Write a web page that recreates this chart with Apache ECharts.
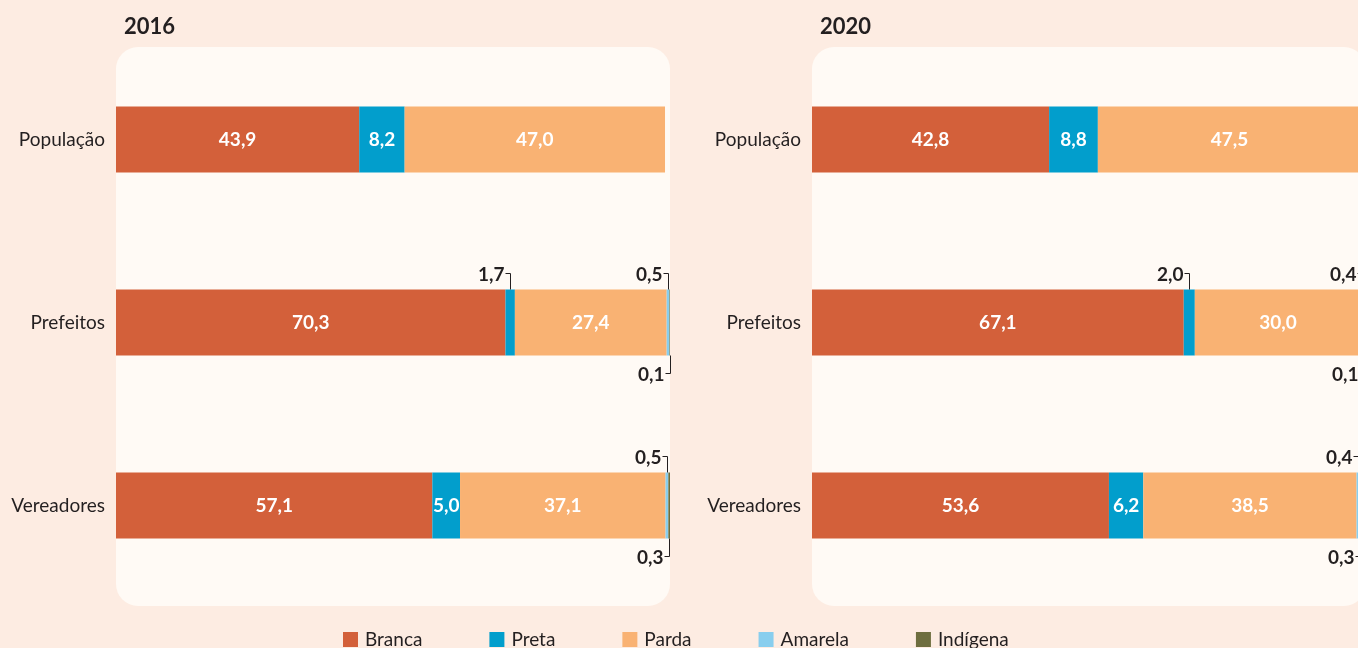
<!DOCTYPE html>
<html>
<head>
<meta charset="utf-8">
<script src="https://cdn.jsdelivr.net/npm/echarts@6/dist/echarts.min.js"></script>
<style>
  html, body { margin: 0; padding: 0; background: #FDECE2; overflow: hidden; }
  #chart { width: 1372px; height: 648px; }
</style>
</head>
<body>
<div id="chart"></div>
<script>
const categories = ['População', 'Prefeitos', 'Vereadores'];
const groups = ['Branca', 'Preta', 'Parda', 'Amarela', 'Indígena'];
const colors = ['#D3603A', '#029ECC', '#F9B273', '#88CEEE', '#6E6E3F'];

// 2016
const branca2016 = [43.9, 70.3, 57.1];
const preta2016 = [8.2, 1.7, 5.0];
const parda2016 = [47.0, 27.4, 37.1];
const amarela2016 = [null, 0.5, 0.5];
const indigena2016 = [null, 0.1, 0.3];

// 2020
const branca2020 = [42.8, 67.1, 53.6];
const preta2020 = [8.8, 2.0, 6.2];
const parda2020 = [47.5, 30.0, 38.5];
const amarela2020 = [null, 0.4, 0.4];
const indigena2020 = [null, 0.1, 0.3];

const years = ['2016', '2020'];
const yearData = [
  [branca2016, preta2016, parda2016, amarela2016, indigena2016],
  [branca2020, preta2020, parda2020, amarela2020, indigena2020]
];

const FONT = 'Lato';
const INK = '#231F20';
const BAR_W = 66;

function fmt(v) {
  return v.toFixed(1).replace('.', ',');
}

// small segments get an outside label with a leader line
function buildNotes(rows) {
  const notes = [];
  categories.forEach(function (c, ci) {
    let cum = 0;
    rows.forEach(function (arr, si) {
      const v = arr[ci];
      if (v == null) return;
      if (v < 3) {
        notes.push([cum, v, ci, si === 4 ? 1 : 0]);
      }
      cum += v;
    });
  });
  return notes;
}

function renderNote(params, api) {
  const start = api.value(0);
  const val = api.value(1);
  const cat = api.value(2);
  const down = api.value(3) === 1;
  const p = api.coord([start + val / 2, cat]);
  const x = Math.round(p[0]) + 0.5;
  const yBar = down ? p[1] + BAR_W / 2 : p[1] - BAR_W / 2;
  const yTip = Math.round(down ? yBar + 17 : yBar - 17) + 0.5;
  return {
    type: 'group',
    children: [
      {
        type: 'polyline',
        shape: { points: [[x, yBar], [x, yTip], [x - 5, yTip]] },
        style: { stroke: INK, lineWidth: 1, fill: null }
      },
      {
        type: 'text',
        style: {
          text: fmt(val), x: x - 6, y: yTip + 1,
          align: 'right', verticalAlign: 'middle',
          fill: INK, fontSize: 19, fontWeight: 'bold', fontFamily: FONT
        }
      }
    ]
  };
}

const grids = [];
const xAxes = [];
const yAxes = [];
const series = [];
const lefts = [116, 812];

years.forEach(function (yr, gi) {
  grids.push({ left: lefts[gi], top: 48, width: 554, height: 549 });
  xAxes.push({ gridIndex: gi, type: 'value', min: 0, max: 100, show: false });
  yAxes.push({
    gridIndex: gi, type: 'category', data: categories, inverse: true,
    axisLine: { show: false }, axisTick: { show: false }, splitLine: { show: false },
    axisLabel: { color: INK, fontSize: 19, fontFamily: FONT, margin: 11 }
  });
  yearData[gi].forEach(function (arr, si) {
    series.push({
      name: groups[si], type: 'bar', stack: 's' + gi,
      xAxisIndex: gi, yAxisIndex: gi, barWidth: BAR_W,
      itemStyle: { color: colors[si] },
      label: {
        show: true, position: 'inside', color: '#fff',
        fontSize: 19, fontWeight: 'bold', fontFamily: FONT,
        formatter: function (p) { return p.value >= 3 ? fmt(p.value) : ''; }
      },
      emphasis: { disabled: true },
      data: arr
    });
  });
  series.push({
    name: 'notas' + yr, type: 'custom', xAxisIndex: gi, yAxisIndex: gi,
    renderItem: renderNote, encode: { x: 0, y: 2 }, silent: true, z: 5,
    data: buildNotes(yearData[gi])
  });
});

const chart = echarts.init(document.getElementById('chart'));
chart.setOption({
  backgroundColor: '#FDECE2',
  animation: false,
  title: [
    { text: years[0], left: 119, top: 11, textStyle: { color: INK, fontSize: 22, fontWeight: 'bold', fontFamily: FONT } },
    { text: years[1], left: 815, top: 11, textStyle: { color: INK, fontSize: 22, fontWeight: 'bold', fontFamily: FONT } }
  ],
  graphic: [
    { type: 'rect', z: -10, shape: { x: 116, y: 47, width: 554, height: 559, r: 22 }, style: { fill: '#FFFAF5' } },
    { type: 'rect', z: -10, shape: { x: 812, y: 47, width: 554, height: 559, r: 22 }, style: { fill: '#FFFAF5' } }
  ],
  legend: {
    data: groups, left: 343, top: 630, padding: 0, itemWidth: 15, itemHeight: 15, itemGap: 67,
    icon: 'rect', selectedMode: false,
    textStyle: { color: INK, fontSize: 19, lineHeight: 19, fontFamily: FONT, padding: [0, 0, 0, 2] }
  },
  grid: grids,
  xAxis: xAxes,
  yAxis: yAxes,
  series: series
});
</script>
</body>
</html>
